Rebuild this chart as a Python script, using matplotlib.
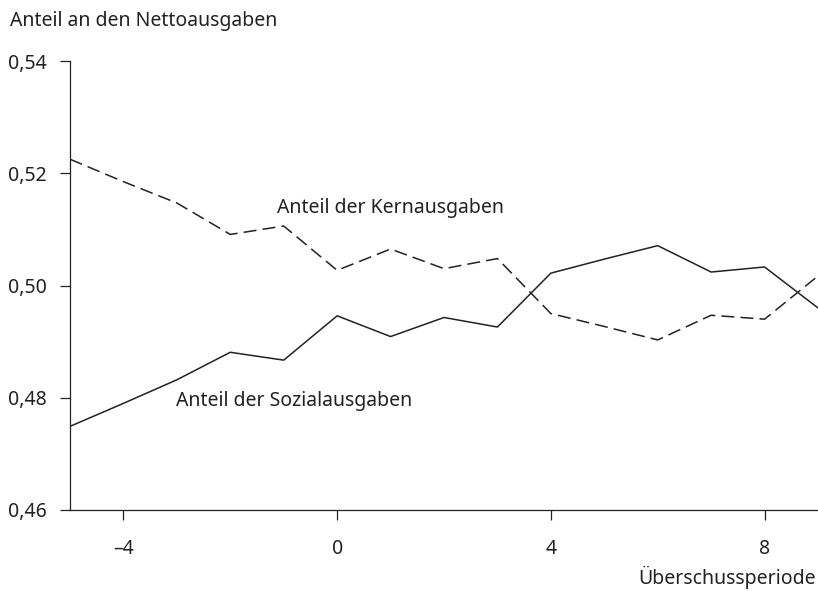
import matplotlib.pyplot as plt
from matplotlib.ticker import FixedLocator, FuncFormatter

plt.rcParams['font.family'] = ['Noto Sans', 'DejaVu Sans']

periode = [-5, -4, -3, -2, -1, 0, 1, 2, 3, 4, 5, 6, 7, 8, 9]
kern = [0.5225, 0.5185, 0.5147, 0.5091, 0.5106, 0.5027, 0.5065, 0.5030,
        0.5048, 0.4950, 0.4927, 0.4903, 0.4947, 0.4940, 0.5017]
sozial = [0.4749, 0.4790, 0.4832, 0.4881, 0.4867, 0.4946, 0.4909, 0.4943,
          0.4926, 0.5022, 0.5047, 0.5071, 0.5024, 0.5033, 0.4960]

x_ticks = [-4, 0, 4, 8]
y_ticks = [0.46, 0.48, 0.50, 0.52, 0.54]

fs = 14
ink = '#222222'

fig = plt.figure(figsize=(8.18, 5.91), dpi=100)
ax = fig.add_axes([70 / 818, 81 / 591, 748 / 818, 449 / 591])

ax.plot(periode, kern, color=ink, lw=1.1, dashes=(8.5, 4))
ax.plot(periode, sozial, color=ink, lw=1.1)

ax.set_xlim(-5, 9)
ax.set_ylim(0.46, 0.54)

ax.xaxis.set_major_locator(FixedLocator(x_ticks))
ax.yaxis.set_major_locator(FixedLocator(y_ticks))
ax.yaxis.set_major_formatter(FuncFormatter(lambda v, p: f'{v:.2f}'.replace('.', ',')))
ax.xaxis.set_major_formatter(FuncFormatter(lambda v, p: f'{v:.0f}'.replace('-', '\u2013')))

for s in ['top', 'right']:
    ax.spines[s].set_visible(False)
for s in ['left', 'bottom']:
    ax.spines[s].set_linewidth(0.9)
    ax.spines[s].set_color(ink)

ax.tick_params(axis='both', direction='out', length=7, width=0.9, color=ink,
               labelsize=fs, labelcolor=ink)
ax.tick_params(axis='y', pad=10)
ax.tick_params(axis='x', pad=14)

ax.text(-1.12, 0.5129, 'Anteil der Kernausgaben', fontsize=fs, color=ink,
        va='baseline', ha='left')
ax.text(-3.01, 0.4786, 'Anteil der Sozialausgaben', fontsize=fs, color=ink,
        va='baseline', ha='left')

fig.text(10 / 818, 1 - 21 / 591, 'Anteil an den Nettoausgaben', fontsize=fs,
         color=ink, va='center', ha='left')
fig.text(816 / 818, 1 - 577 / 591, 'Überschussperiode', fontsize=fs,
         color=ink, va='center', ha='right')

fig.savefig('out.png', dpi=100)
